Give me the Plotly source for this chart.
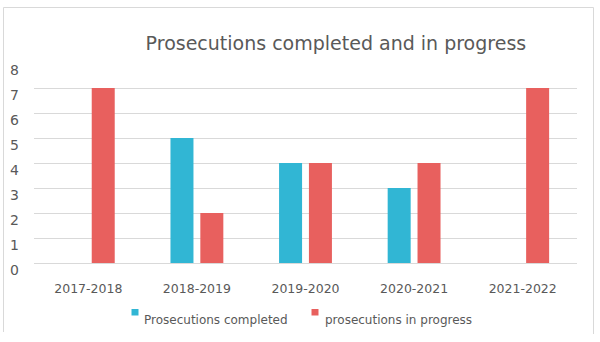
import plotly.graph_objects as go

categories = ["2017-2018", "2018-2019", "2019-2020", "2020-2021", "2021-2022"]
completed = [0, 5, 4, 3, 0]
in_progress = [7, 2, 4, 4, 7]
y_ticks = [0, 1, 2, 3, 4, 5, 6, 7, 8]
series_names = ["Prosecutions completed", "prosecutions in progress"]
series_colors = ["#31B6D4", "#E8605E"]

FONT = "DejaVu Sans, Verdana, sans-serif"
TXT = "#595959"

fig = go.Figure()
for name, vals, col in zip(series_names, [completed, in_progress], series_colors):
    fig.add_trace(go.Bar(x=categories, y=vals, name=name, showlegend=False,
                         marker=dict(color=col, line=dict(width=0))))

W, H = 600, 342
ml, mr, mt, mb = 34, 23, 63, 79
pw, ph = W - ml - mr, H - mt - mb

def px(x):
    return (x - ml) / pw

def py(y):
    return (H - mb - y) / ph

border = "#D9D9D9"
shapes = [
    dict(type="line", xref="paper", yref="paper", x0=px(3.5), x1=px(3.5), y0=py(7.5), y1=py(332), line=dict(color=border, width=1)),
    dict(type="line", xref="paper", yref="paper", x0=px(3.5), x1=px(593.5), y0=py(7.5), y1=py(7.5), line=dict(color=border, width=1)),
    dict(type="line", xref="paper", yref="paper", x0=px(593.5), x1=px(593.5), y0=py(7.5), y1=py(334), line=dict(color=border, width=1)),
]

annotations = []
# y tick labels (Excel-style, sitting slightly below gridlines)
for v in y_ticks:
    annotations.append(dict(text=str(v), xref="paper", yref="y", x=px(21), y=v, xanchor="right",
                            yanchor="middle", yshift=-7, showarrow=False,
                            font=dict(size=14, color=TXT, family=FONT)))

# custom legend
legend_sq_x = [131.5, 311.5]
legend_txt_x = [142, 322.5]
for name, col, sx, tx in zip(series_names, series_colors, legend_sq_x, legend_txt_x):
    shapes.append(dict(type="rect", xref="paper", yref="paper", x0=px(sx), x1=px(sx + 7),
                       y0=py(309), y1=py(315.5), fillcolor=col, line=dict(width=0)))
    annotations.append(dict(text=name, xref="paper", yref="paper", x=px(tx), y=py(319.5),
                            xanchor="left", yanchor="middle", showarrow=False,
                            font=dict(size=12, color=TXT, family=FONT)))

fig.update_layout(
    width=W, height=H,
    margin=dict(l=ml, r=mr, t=mt, b=mb),
    paper_bgcolor="white", plot_bgcolor="white",
    barmode="group", bargap=0.45, bargroupgap=0.23,
    font=dict(family=FONT, color=TXT, size=12),
    title=dict(text="Prosecutions completed and in progress", x=px(338), xanchor="center",
               y=1 - 43 / H, yanchor="middle", font=dict(size=19, color=TXT, family=FONT)),
    showlegend=False,
    shapes=shapes,
    annotations=annotations,
    xaxis=dict(showgrid=False, showline=False, ticks="", ticklabelstandoff=16,
               tickfont=dict(size=12.5, color=TXT)),
    yaxis=dict(range=[0, 8], tickvals=y_ticks, showgrid=True, gridcolor="#D9D9D9", gridwidth=1,
               zeroline=True, zerolinecolor="#D9D9D9", zerolinewidth=1, showline=False,
               ticks="", showticklabels=False),
)

fig.write_html("out.html")
